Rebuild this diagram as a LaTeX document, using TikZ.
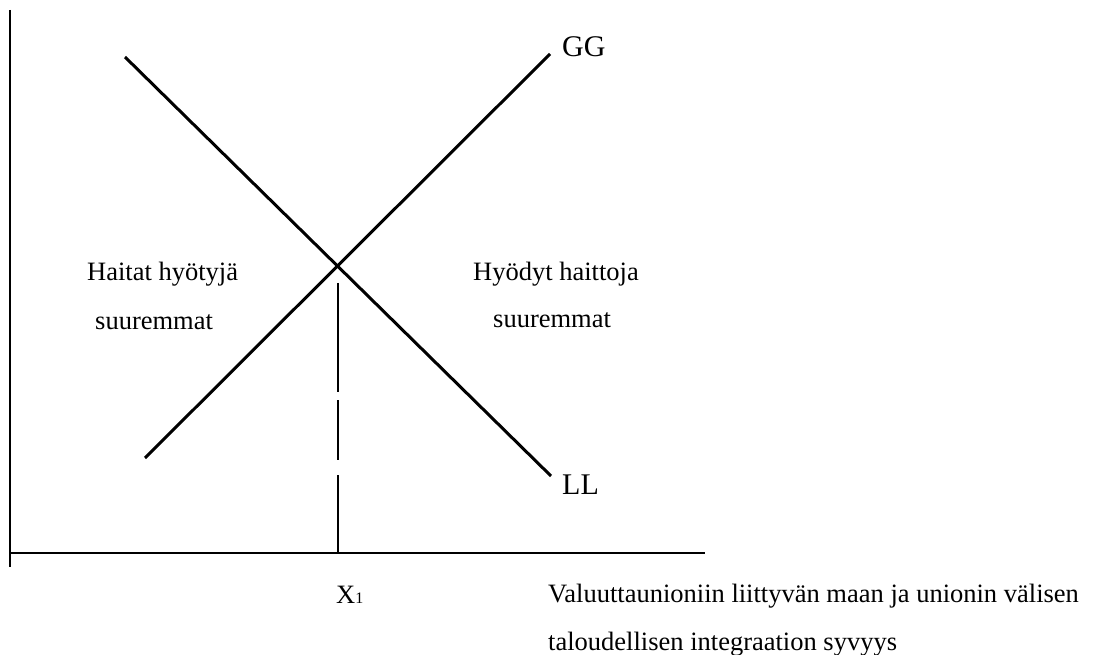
\documentclass[tikz,border=0pt]{standalone}
\usepackage{fontspec}
\setmainfont{Liberation Serif}
\begin{document}
\begin{tikzpicture}[x=1pt,y=-1pt,
  curve/.style={line width=3pt},
  axis/.style={line width=2.6pt},
  guide/.style={line width=2.4pt, dash pattern=on 109pt off 8pt on 60pt off 15pt on 90pt},
  lbl/.style={inner sep=0pt, anchor=base west, font=\fontsize{26.5}{26.5}\selectfont},
  big/.style={inner sep=0pt, anchor=base west, font=\fontsize{30}{30}\selectfont}]
\useasboundingbox (0,0) rectangle (1096,655);
% axes
\coordinate (Ytop) at (10,10);
\coordinate (Ybot) at (10,567);
\coordinate (O) at (10,553);
\coordinate (Xend) at (705,553);
\draw[axis] (Ytop) -- (Ybot);
\draw[axis] (O) -- (Xend);
% curves
\coordinate (GGa) at (145,458);
\coordinate (GGb) at (550,54);
\coordinate (LLa) at (125,57);
\coordinate (LLb) at (551,476);
\draw[curve] (GGa) -- (GGb);
\draw[curve] (LLa) -- (LLb);
% dashed guide
\coordinate (Dtop) at (338,283);
\coordinate (Dbot) at (338,553);
\draw[guide] (Dtop) -- (Dbot);
% labels
\node[big] (gg) at (562,57) {GG};
\node[big] (ll) at (562,494) {LL};
\node[lbl] (h1) at (87,281) {Haitat hyötyjä};
\node[lbl] (h2) at (95,330) {suuremmat};
\node[lbl] (b1) at (473,281) {Hyödyt haittoja};
\node[lbl] (b2) at (493,327) {suuremmat};
\node[lbl] (x1) at (336,603) {X{\fontsize{16}{16}\selectfont 1}};
\node[lbl] (ax1) at (548,602) {Valuuttaunioniin liittyvän maan ja unionin välisen};
\node[lbl] (ax2) at (548,650) {taloudellisen integraation syvyys};
\end{tikzpicture}
\end{document}
